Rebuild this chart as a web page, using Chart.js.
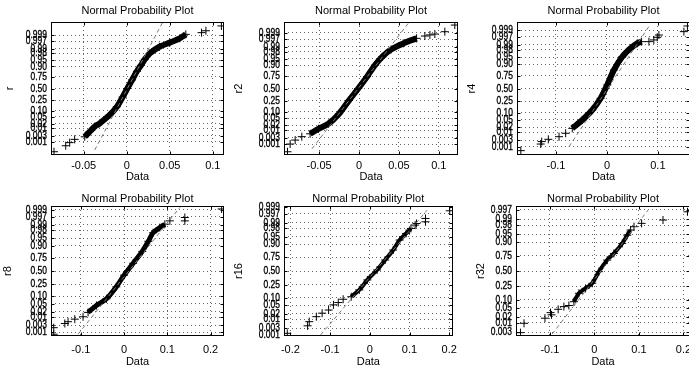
<!DOCTYPE html>
<html>
<head>
<meta charset="utf-8">
<script src="https://cdn.jsdelivr.net/npm/chart.js@4/dist/chart.umd.min.js"></script>
<style>
  html, body { margin: 0; padding: 0; background: #fff; overflow: hidden; width: 689px; height: 367px; }
</style>
</head>
<body>
<script>
// probability axis: labels and their normal quantiles
const probLabels = ['0.001','0.003','0.01','0.02','0.05','0.10','0.25','0.50','0.75','0.90','0.95','0.98','0.99','0.997','0.999'];
const probZ = [-3.090,-2.748,-2.326,-2.054,-1.645,-1.282,-0.674,0,0.674,1.282,1.645,2.054,2.326,2.748,3.090];

const names = ['r','r2','r4','r8','r16','r32'];

// x ticks per panel
const xTicks = [[-0.05,0,0.05,0.1],[-0.05,0,0.05,0.1],[-0.1,0,0.1],[-0.1,0,0.1,0.2],[-0.2,-0.1,0,0.1,0.2],[-0.1,0,0.1,0.2]];
const xTickLabels = [['-0.05','0','0.05','0.1'],['-0.05','0','0.05','0.1'],['-0.1','0','0.1'],['-0.1','0','0.1','0.2'],['-0.2','-0.1','0','0.1','0.2'],['-0.1','0','0.1','0.2']];
const xMin = [-0.088,-0.094,-0.1765,-0.169,-0.216,-0.176];
const xMax = [0.113,0.124,0.163,0.231,0.2085,0.2146];
const zLim = [3.87,3.70,3.52,3.28,3.13,2.92];

// r
const rBodyX = [-0.0488,-0.043,-0.0372,-0.0314,-0.0198,-0.0115,-0.0048,0.0006,0.0062,0.0118,0.0165,0.021,0.027,0.038,0.050,0.0616,0.0686];
const rBodyZ = [-2.81,-2.51,-2.22,-2.03,-1.54,-1.06,-0.5,0.0,0.5,1.0,1.35,1.7,2.05,2.43,2.67,2.92,3.15];
const rTailX = [-0.0845,-0.0709,-0.0663,-0.0605,0.0869,0.092,0.110];
const rTailZ = [-3.68,-3.33,-3.15,-2.96,3.25,3.36,3.64];
const rRefX = [-0.0372,0.0419];
const rRefZ = [-3.58,3.87];

// r2
const r2BodyX = [-0.0613,-0.0508,-0.0383,-0.025,-0.0125,-0.001,0.010,0.020,0.029,0.040,0.0554,0.0721];
const r2BodyZ = [-2.52,-2.24,-1.96,-1.40,-0.66,0.0,0.66,1.30,1.76,2.17,2.51,2.79];
const r2TailX = [-0.0896,-0.0863,-0.080,-0.0717,0.0825,0.0888,0.095,0.1075,0.12];
const r2TailZ = [-3.52,-3.09,-2.87,-2.68,2.92,2.98,3.03,3.16,3.53];
const r2RefX = [-0.059,0.0617];
const r2RefZ = [-3.36,3.63];

// r4
const r4BodyX = [-0.068,-0.0484,-0.0288,-0.0124,0.0006,0.0137,0.030,0.0464,0.0595,0.068];
const r4BodyZ = [-2.11,-1.67,-1.14,-0.52,0.19,0.98,1.68,2.13,2.39,2.48];
const r4TailX = [-0.169,-0.130,-0.128,-0.115,-0.094,-0.081,0.0824,0.092,0.0987,0.102,0.151,0.158];
const r4TailZ = [-3.29,-2.94,-2.81,-2.69,-2.55,-2.37,2.48,2.57,2.71,2.83,3.01,3.31];
const r4RefX = [-0.0745,0.082];
const r4RefZ = [-3.08,3.27];

// r8
const r8BodyX = [-0.0833,-0.064,-0.0407,-0.018,0.0,0.021,0.042,0.056,0.0671,0.0826,0.0942];
const r8BodyZ = [-2.09,-1.74,-1.40,-0.80,-0.21,0.39,0.99,1.50,1.93,2.19,2.36];
const r8TailX = [-0.1627,-0.1627,-0.137,-0.1296,-0.114,-0.0949,0.1058,0.1405,0.1405,0.2255];
const r8TailZ = [-3.19,-2.86,-2.65,-2.56,-2.43,-2.31,2.53,2.70,2.53,3.13];
const r8RefX = [-0.1065,0.129];
const r8RefZ = [-3.19,3.21];

// r16
const r16BodyX = [-0.0468,-0.0264,-0.0061,0.0183,0.0386,0.059,0.0752,0.0915,0.1037];
const r16BodyZ = [-1.24,-0.91,-0.43,0.05,0.53,1.01,1.49,1.81,2.05];
const r16TailX = [-0.2078,-0.1566,-0.1524,-0.1346,-0.120,-0.1037,-0.0915,-0.0793,-0.0671,0.1142,0.1175,0.1402,0.1402,0.2012];
const r16TailZ = [-3.0,-2.64,-2.44,-2.20,-2.03,-1.88,-1.63,-1.52,-1.36,2.21,2.29,2.37,2.53,2.90];
const r16RefX = [-0.124,0.1443];
const r16RefZ = [-3.08,2.93];

// r32
const r32BodyX = [-0.0461,-0.0348,-0.0198,-0.0049,0.0101,0.0288,0.0438,0.0625,0.0737,0.0813];
const r32BodyZ = [-1.38,-1.00,-0.78,-0.55,-0.03,0.49,0.79,1.24,1.61,1.84];
const r32TailX = [-0.166,-0.158,-0.111,-0.0985,-0.0962,-0.0813,-0.0685,-0.0573,0.0888,0.106,0.154,0.209];
const r32TailZ = [-2.77,-2.35,-2.12,-1.87,-1.97,-1.72,-1.60,-1.55,1.99,2.14,2.29,2.66];
const r32RefX = [-0.0948,0.126];
const r32RefZ = [-2.83,2.88];

const bodyX = [rBodyX, r2BodyX, r4BodyX, r8BodyX, r16BodyX, r32BodyX];
const bodyZ = [rBodyZ, r2BodyZ, r4BodyZ, r8BodyZ, r16BodyZ, r32BodyZ];
const tailX = [rTailX, r2TailX, r4TailX, r8TailX, r16TailX, r32TailX];
const tailZ = [rTailZ, r2TailZ, r4TailZ, r8TailZ, r16TailZ, r32TailZ];
const refX = [rRefX, r2RefX, r4RefX, r8RefX, r16RefX, r32RefX];
const refZ = [rRefZ, r2RefZ, r4RefZ, r8RefZ, r16RefZ, r32RefZ];

// layout (page pixels)
const boxes = [[51,22,224,155],[284,22,458,155],[517,22,690,155],[51,206,224,336],[284,206,458,336],[516,206,690,336]];
const canv = [[0,0,232,183],[232,0,232,183],[464,0,240,183],[0,183,232,184],[232,183,232,184],[464,183,240,184]];
const ylabX = [10,239,472,8,239,481];
const titleY = [11.2, 15.5];
const bodyWidth = [6, 6, 6, 5, 4, 4];

const FONT = '"Liberation Sans", Arial, Helvetica, sans-serif';

const pts = (xs, zs) => xs.map((x, k) => ({x: x, y: zs[k]}));

// box, inward ticks, condensed probability labels and the panel title
const frame = {
  id: 'frame',
  afterDraw(chart, args, opts) {
    const {ctx, chartArea: a, scales} = chart;
    const L = Math.round(a.left) + 0.5, R = Math.round(a.right) - 0.5;
    const T = Math.round(a.top) + 0.5, B = Math.round(a.bottom) - 0.5;
    ctx.save();
    ctx.strokeStyle = '#000';
    ctx.lineWidth = 1;
    ctx.strokeRect(L, T, R - L, B - T);
    ctx.beginPath();
    scales.x.ticks.forEach(t => {
      const p = Math.round(scales.x.getPixelForValue(t.value)) + 0.5;
      ctx.moveTo(p, B); ctx.lineTo(p, B - 3);
      ctx.moveTo(p, T); ctx.lineTo(p, T + 3);
    });
    scales.y.ticks.forEach(t => {
      const p = Math.round(scales.y.getPixelForValue(t.value)) + 0.5;
      ctx.moveTo(L, p); ctx.lineTo(L + 3, p);
      ctx.moveTo(R, p); ctx.lineTo(R - 3, p);
    });
    ctx.stroke();

    ctx.fillStyle = '#000';
    ctx.strokeStyle = '#000';
    ctx.lineWidth = 0.35;
    ctx.font = '11px ' + FONT;
    ctx.textBaseline = 'middle';
    scales.y.ticks.forEach(t => {
      const p = scales.y.getPixelForValue(t.value);
      const lab = probLabels[probZ.indexOf(t.value)];
      ctx.save();
      ctx.translate(a.left - 4, p);
      ctx.scale(0.77, 1);
      ctx.textAlign = 'right';
      ctx.fillText(lab, 0, 0);
      ctx.strokeText(lab, 0, 0);
      ctx.restore();
    });
    ctx.textAlign = 'center';
    ctx.fillText(opts.title, (a.left + a.right) / 2, opts.titleY);
    ctx.restore();
  }
};

function makePanel(i) {
  const [cx, cy, cw, ch] = canv[i];
  const [bl, bt, br, bb] = boxes[i];
  const row = i < 3 ? 0 : 1;
  const div = document.createElement('div');
  div.style.cssText = `position:absolute;left:${cx}px;top:${cy}px;width:${cw}px;height:${ch}px;`;
  const cv = document.createElement('canvas');
  div.appendChild(cv);
  document.body.appendChild(div);

  const yTicks = probZ.filter(z => z >= -zLim[i] && z <= zLim[i]);

  new Chart(cv.getContext('2d'), {
    type: 'scatter',
    data: {
      datasets: [
        {
          data: pts(refX[i], refZ[i]),
          showLine: true,
          borderColor: '#7a7a7a',
          borderWidth: 1,
          borderDash: [4, 3],
          pointRadius: 0
        },
        {
          data: pts(tailX[i], tailZ[i]),
          showLine: false,
          pointStyle: 'cross',
          pointRadius: 4,
          pointBorderWidth: 1,
          borderColor: '#000'
        },
        {
          data: pts(bodyX[i], bodyZ[i]),
          showLine: true,
          tension: 0.3,
          borderColor: '#000',
          borderWidth: bodyWidth[i],
          pointStyle: 'cross',
          pointRadius: 4,
          pointBorderWidth: 1,
          pointBorderColor: '#000'
        }
      ]
    },
    options: {
      responsive: true,
      maintainAspectRatio: false,
      animation: false,
      events: [],
      layout: { padding: { left: 0, top: bt - cy, bottom: 0, right: cx + cw - br } },
      plugins: {
        legend: { display: false },
        tooltip: { enabled: false },
        title: { display: false },
        frame: { title: 'Normal Probability Plot', titleY: titleY[row] }
      },
      scales: {
        x: {
          type: 'linear',
          min: xMin[i],
          max: xMax[i],
          afterFit: s => { s.height = cy + ch - bb; },
          afterBuildTicks: s => { s.ticks = xTicks[i].map(v => ({value: v})); },
          ticks: {
            autoSkip: false,
            maxRotation: 0,
            color: '#000',
            padding: row === 0 ? 4 : 7,
            font: { family: FONT, size: 11 },
            callback: v => xTickLabels[i][xTicks[i].indexOf(v)]
          },
          grid: { color: 'rgba(0,0,0,0.6)', lineWidth: 1, drawTicks: false },
          border: { display: false, dash: [1, 3] },
          title: {
            display: true,
            text: 'Data',
            color: '#000',
            font: { family: FONT, size: 11, lineHeight: 1 },
            padding: { top: 0, bottom: row === 0 ? 1 : 0 }
          }
        },
        y: {
          type: 'linear',
          min: -zLim[i],
          max: zLim[i],
          afterFit: s => { s.width = bl - cx; },
          afterBuildTicks: s => { s.ticks = yTicks.map(v => ({value: v})); },
          ticks: { display: false },
          grid: { color: 'rgba(0,0,0,0.6)', lineWidth: 1, drawTicks: false },
          border: { display: false, dash: [1, 3] },
          title: {
            display: true,
            text: names[i],
            color: '#000',
            font: { family: FONT, size: 11, lineHeight: 1 },
            padding: { top: ylabX[i] - cx - 5.5, bottom: 0 }
          }
        }
      }
    },
    plugins: [frame]
  });
}

for (let i = 0; i < 6; i++) makePanel(i);
</script>
</body>
</html>
